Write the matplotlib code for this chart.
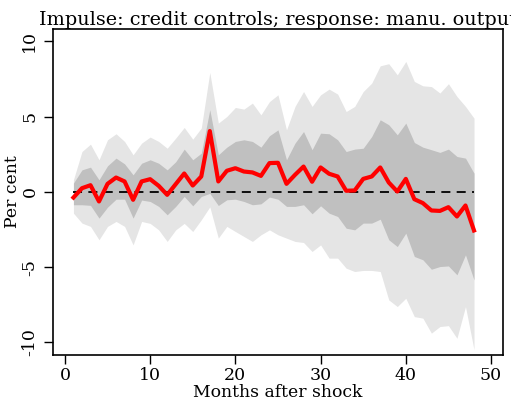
import numpy as np
import matplotlib.pyplot as plt

plt.rcParams['font.family'] = ['DejaVu Serif']

months = np.arange(1, 49)

# point estimate of the response (per cent)
response = [-0.38, 0.24, 0.44, -0.64, 0.53, 0.95, 0.69, -0.53, 0.69, 0.84,
            0.40, -0.20, 0.51, 1.22, 0.42, 1.02, 4.04, 0.69, 1.40, 1.57,
            1.35, 1.29, 1.06, 1.91, 1.93, 0.53, 1.13, 1.68, 0.67, 1.62,
            1.20, 1.02, 0.07, 0.09, 0.86, 1.02, 1.62, 0.62, 0.02, 0.86,
            -0.49, -0.75, -1.24, -1.27, -1.02, -1.64, -0.91, -2.57]

# wide band
outer_hi = [0.80, 2.68, 3.17, 2.13, 3.46, 3.86, 3.35, 2.46, 3.24, 3.64,
            3.35, 2.90, 3.57, 4.28, 3.50, 4.24, 7.94, 4.57, 5.01, 5.61,
            5.50, 5.90, 5.12, 6.00, 6.45, 4.12, 5.68, 6.67, 5.68, 6.45,
            6.83, 6.50, 5.34, 5.68, 6.67, 7.23, 8.38, 8.52, 7.78, 8.67,
            7.34, 7.05, 7.00, 6.57, 7.19, 6.34, 5.68, 4.90]
outer_lo = [-1.42, -2.08, -2.30, -3.19, -2.30, -1.97, -2.30, -3.53, -1.97, -2.10,
            -2.53, -3.30, -2.53, -2.10, -2.64, -1.86, -1.00, -3.08, -2.30, -2.64,
            -2.97, -3.30, -2.86, -2.53, -2.86, -3.08, -3.30, -3.37, -3.97, -3.53,
            -4.41, -4.41, -5.08, -5.30, -5.23, -5.23, -5.30, -7.19, -7.63, -7.08,
            -8.30, -8.40, -9.40, -8.96, -8.90, -9.74, -7.63, -10.50]

# narrow band
inner_hi = [0.58, 1.46, 1.64, 0.80, 1.73, 2.24, 1.86, 1.13, 1.90, 2.13,
            1.90, 1.46, 2.00, 2.84, 2.13, 2.57, 5.46, 2.46, 2.97, 3.35,
            3.46, 3.35, 2.97, 3.73, 4.12, 2.13, 3.24, 4.01, 2.80, 3.90,
            3.86, 3.46, 2.68, 2.84, 2.90, 3.68, 4.79, 4.46, 3.79, 4.57,
            3.28, 2.97, 2.80, 2.62, 2.84, 2.35, 2.24, 1.24]
inner_lo = [-0.86, -0.86, -0.90, -1.75, -1.02, -0.49, -0.49, -1.75, -0.55, -0.64,
            -0.97, -1.53, -0.97, -0.31, -0.93, -0.31, -0.10, -0.91, -0.53, -0.49,
            -0.64, -0.86, -0.80, -0.35, -0.49, -0.97, -0.97, -0.86, -1.46, -0.93,
            -1.42, -1.64, -2.42, -2.53, -2.08, -2.08, -1.82, -3.19, -3.64, -2.75,
            -4.30, -4.52, -5.15, -4.97, -4.93, -5.52, -4.19, -5.86]

fig = plt.figure(figsize=(5.11, 4.08), dpi=100)
ax = fig.add_axes([0.1037, 0.13, 0.8806, 0.7997])

ax.fill_between(months, outer_lo, outer_hi, color='#e5e5e5', lw=0)
ax.fill_between(months, inner_lo, inner_hi, color='#c0c0c0', lw=0)
ax.plot(months, np.zeros(len(months)), color='black', ls=(0, (5, 3.5)), lw=1.3)
ax.plot(months, response, color='#ff0000', lw=3)

ax.set_xlim(-1.4, 51.4)
ax.set_ylim(-10.85, 10.85)
ax.set_xticks([0, 10, 20, 30, 40, 50])
ax.set_yticks([-10, -5, 0, 5, 10])
ax.set_yticklabels(['-10', '-5', '0', '5', '10'], rotation=90, va='center')
ax.tick_params(direction='out', length=6.5, width=1, labelsize=12.5, pad=4)
ax.tick_params(axis='x', pad=2)
for s in ax.spines.values():
    s.set_linewidth(1.2)

ax.set_xlabel('Months after shock', fontsize=12.4, labelpad=0)
ax.set_ylabel('Per cent', fontsize=12.4, labelpad=0)
ax.set_title('Impulse: credit controls; response: manu. output', fontsize=13.8, pad=3)

fig.savefig('out.png', dpi=100)
